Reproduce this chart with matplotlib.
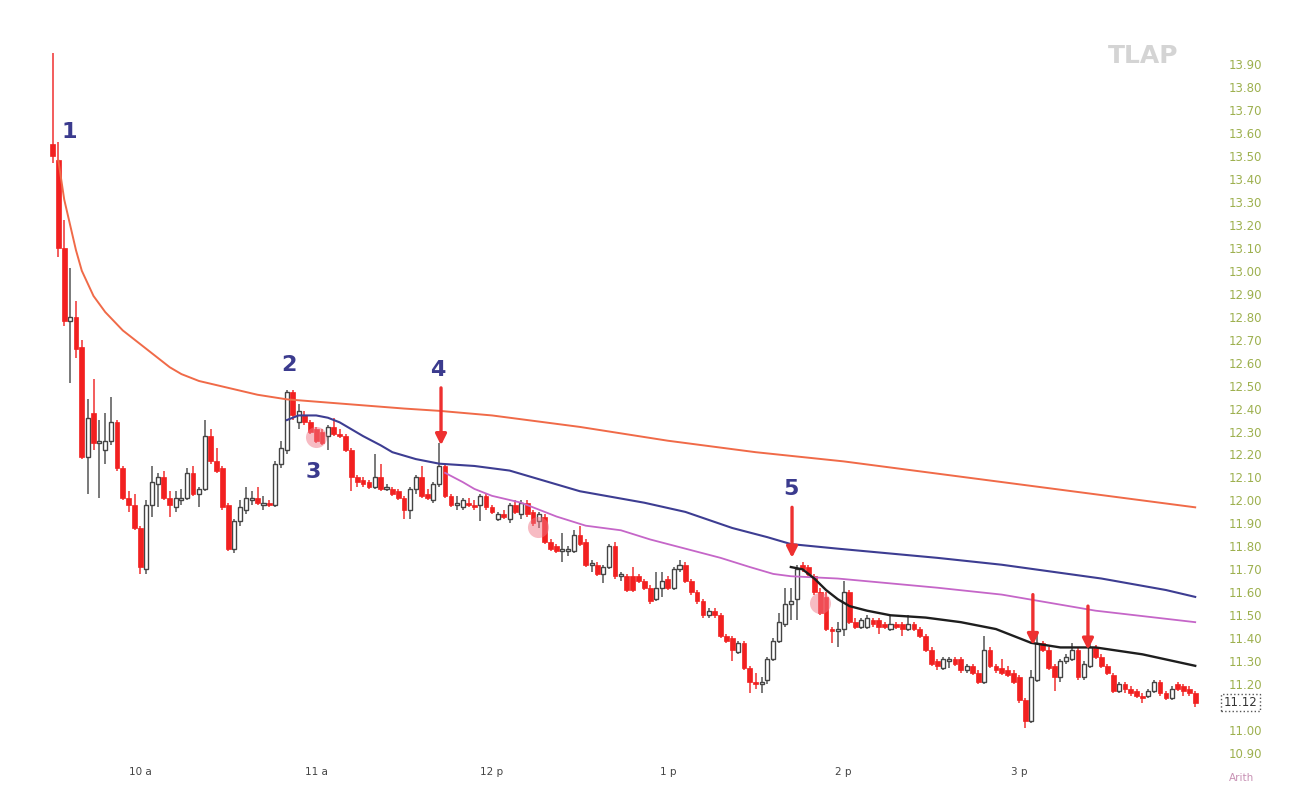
import numpy as np
import matplotlib
matplotlib.use('Agg')
from matplotlib import pyplot as plt

# 2-minute candles from 9:30
opens = [13.55, 13.48, 13.10, 12.78, 12.80, 12.67, 12.19, 12.38, 12.25, 12.22,
         12.26, 12.34, 12.14, 12.01, 11.98, 11.88, 11.70, 11.98, 12.07, 12.10,
         12.01, 11.97, 12.00, 12.01, 12.12, 12.03, 12.05, 12.28, 12.17, 12.14,
         11.98, 11.79, 11.91, 11.96, 12.00, 12.01, 11.98, 11.99, 11.98, 12.16,
         12.22, 12.47, 12.34, 12.37, 12.34, 12.31, 12.30, 12.28, 12.32, 12.29,
         12.28, 12.22, 12.10, 12.09, 12.08, 12.06, 12.10, 12.05, 12.05, 12.04,
         12.01, 11.96, 12.05, 12.10, 12.03, 12.00, 12.07, 12.15, 12.02, 11.98,
         11.97, 11.99, 11.98, 11.98, 12.02, 11.97, 11.92, 11.94, 11.92, 11.98,
         11.94, 11.99, 11.95, 11.91, 11.93, 11.82, 11.80, 11.78, 11.78, 11.78,
         11.85, 11.82, 11.72, 11.72, 11.68, 11.71, 11.80, 11.67, 11.67, 11.67,
         11.67, 11.65, 11.62, 11.57, 11.62, 11.66, 11.62, 11.70, 11.72, 11.65,
         11.60, 11.56, 11.50, 11.52, 11.50, 11.41, 11.40, 11.34, 11.38, 11.27,
         11.21, 11.20, 11.22, 11.31, 11.39, 11.46, 11.55, 11.57, 11.72, 11.71,
         11.67, 11.60, 11.58, 11.44, 11.43, 11.44, 11.60, 11.47, 11.45, 11.45,
         11.48, 11.48, 11.46, 11.44, 11.46, 11.46, 11.44, 11.46, 11.44, 11.41,
         11.35, 11.30, 11.27, 11.30, 11.31, 11.31, 11.26, 11.28, 11.25, 11.21,
         11.35, 11.28, 11.27, 11.26, 11.25, 11.23, 11.13, 11.04, 11.22, 11.38,
         11.35, 11.28, 11.23, 11.30, 11.31, 11.35, 11.23, 11.28, 11.36, 11.32,
         11.28, 11.24, 11.17, 11.20, 11.18, 11.17, 11.15, 11.15, 11.17, 11.21,
         11.16, 11.14, 11.20, 11.19, 11.18, 11.16]
highs = [13.95, 13.56, 13.22, 13.01, 12.87, 12.70, 12.44, 12.53, 12.35, 12.38,
         12.45, 12.35, 12.15, 12.04, 12.03, 11.89, 12.00, 12.15, 12.12, 12.13,
         12.04, 12.04, 12.05, 12.14, 12.15, 12.06, 12.35, 12.31, 12.23, 12.15,
         11.99, 11.92, 12.00, 12.06, 12.04, 12.06, 12.02, 12.00, 12.17, 12.26,
         12.48, 12.48, 12.42, 12.39, 12.35, 12.32, 12.31, 12.33, 12.36, 12.31,
         12.29, 12.23, 12.11, 12.10, 12.09, 12.20, 12.16, 12.07, 12.06, 12.05,
         12.02, 12.06, 12.11, 12.15, 12.05, 12.08, 12.25, 12.16, 12.03, 12.02,
         12.01, 12.01, 12.00, 12.03, 12.03, 11.98, 11.95, 11.96, 11.99, 12.00,
         12.00, 12.00, 11.96, 11.95, 11.94, 11.83, 11.81, 11.86, 11.80, 11.87,
         11.89, 11.83, 11.74, 11.73, 11.72, 11.81, 11.82, 11.69, 11.68, 11.71,
         11.68, 11.66, 11.63, 11.69, 11.69, 11.67, 11.71, 11.74, 11.73, 11.66,
         11.61, 11.57, 11.53, 11.53, 11.51, 11.42, 11.41, 11.39, 11.39, 11.28,
         11.25, 11.23, 11.32, 11.40, 11.51, 11.62, 11.62, 11.72, 11.73, 11.72,
         11.68, 11.62, 11.60, 11.45, 11.47, 11.65, 11.61, 11.49, 11.49, 11.50,
         11.49, 11.49, 11.47, 11.50, 11.47, 11.47, 11.50, 11.47, 11.45, 11.42,
         11.36, 11.31, 11.32, 11.32, 11.32, 11.32, 11.29, 11.29, 11.26, 11.41,
         11.36, 11.29, 11.31, 11.28, 11.26, 11.24, 11.14, 11.26, 11.42, 11.39,
         11.36, 11.29, 11.31, 11.33, 11.38, 11.36, 11.30, 11.38, 11.37, 11.33,
         11.29, 11.25, 11.21, 11.21, 11.19, 11.18, 11.16, 11.18, 11.22, 11.22,
         11.17, 11.19, 11.21, 11.20, 11.19, 11.17]
lows = [13.47, 13.06, 12.76, 12.51, 12.62, 12.18, 12.03, 12.22, 12.01, 12.16,
        12.24, 12.13, 12.00, 11.95, 11.87, 11.68, 11.68, 11.93, 11.97, 12.00,
        11.93, 11.95, 11.98, 12.00, 12.02, 11.97, 12.04, 12.16, 12.12, 11.96,
        11.78, 11.77, 11.89, 11.94, 11.98, 11.98, 11.96, 11.97, 11.97, 12.14,
        12.20, 12.35, 12.31, 12.33, 12.29, 12.25, 12.24, 12.22, 12.28, 12.27,
        12.21, 12.04, 12.06, 12.06, 12.05, 12.05, 12.04, 12.04, 12.02, 12.00,
        11.92, 11.92, 12.03, 12.01, 12.00, 11.99, 12.06, 12.01, 11.97, 11.96,
        11.96, 11.97, 11.96, 11.91, 11.96, 11.94, 11.91, 11.92, 11.90, 11.94,
        11.92, 11.93, 11.89, 11.88, 11.81, 11.78, 11.77, 11.73, 11.76, 11.77,
        11.80, 11.71, 11.69, 11.67, 11.64, 11.70, 11.66, 11.65, 11.60, 11.60,
        11.64, 11.61, 11.55, 11.56, 11.58, 11.61, 11.61, 11.69, 11.64, 11.59,
        11.55, 11.49, 11.49, 11.49, 11.40, 11.38, 11.30, 11.33, 11.26, 11.16,
        11.18, 11.16, 11.20, 11.30, 11.38, 11.45, 11.48, 11.48, 11.69, 11.67,
        11.59, 11.50, 11.43, 11.38, 11.36, 11.41, 11.46, 11.44, 11.44, 11.44,
        11.45, 11.42, 11.44, 11.43, 11.44, 11.41, 11.43, 11.43, 11.40, 11.34,
        11.28, 11.26, 11.26, 11.27, 11.28, 11.25, 11.25, 11.24, 11.20, 11.20,
        11.27, 11.25, 11.24, 11.23, 11.20, 11.12, 11.01, 11.03, 11.21, 11.34,
        11.26, 11.17, 11.21, 11.29, 11.30, 11.22, 11.22, 11.27, 11.31, 11.27,
        11.24, 11.16, 11.16, 11.16, 11.15, 11.14, 11.12, 11.14, 11.16, 11.15,
        11.13, 11.13, 11.17, 11.15, 11.15, 11.10]
closes = [13.50, 13.10, 12.78, 12.80, 12.66, 12.19, 12.36, 12.25, 12.26, 12.26,
          12.34, 12.14, 12.01, 11.98, 11.88, 11.71, 11.98, 12.08, 12.10, 12.01,
          11.98, 12.01, 12.01, 12.12, 12.03, 12.05, 12.28, 12.17, 12.13, 11.97,
          11.79, 11.91, 11.97, 12.01, 12.01, 11.99, 11.99, 11.98, 12.16, 12.23,
          12.47, 12.37, 12.39, 12.34, 12.30, 12.26, 12.25, 12.32, 12.29, 12.28,
          12.22, 12.10, 12.08, 12.07, 12.06, 12.10, 12.05, 12.05, 12.03, 12.01,
          11.96, 12.05, 12.10, 12.02, 12.01, 12.07, 12.15, 12.02, 11.98, 11.98,
          12.00, 11.98, 11.97, 12.02, 11.97, 11.95, 11.94, 11.93, 11.98, 11.95,
          11.99, 11.94, 11.90, 11.94, 11.82, 11.79, 11.78, 11.78, 11.78, 11.85,
          11.81, 11.72, 11.72, 11.68, 11.71, 11.80, 11.67, 11.67, 11.61, 11.61,
          11.65, 11.62, 11.56, 11.62, 11.65, 11.62, 11.70, 11.72, 11.65, 11.60,
          11.56, 11.50, 11.52, 11.50, 11.41, 11.39, 11.35, 11.38, 11.27, 11.21,
          11.20, 11.21, 11.31, 11.39, 11.47, 11.55, 11.56, 11.70, 11.70, 11.68,
          11.60, 11.51, 11.44, 11.43, 11.44, 11.60, 11.47, 11.45, 11.48, 11.49,
          11.46, 11.45, 11.45, 11.46, 11.45, 11.44, 11.46, 11.44, 11.41, 11.35,
          11.29, 11.28, 11.31, 11.30, 11.29, 11.26, 11.28, 11.25, 11.21, 11.35,
          11.28, 11.26, 11.25, 11.24, 11.21, 11.13, 11.04, 11.23, 11.38, 11.35,
          11.27, 11.23, 11.30, 11.32, 11.35, 11.23, 11.29, 11.36, 11.32, 11.28,
          11.25, 11.17, 11.20, 11.18, 11.16, 11.15, 11.14, 11.17, 11.21, 11.16,
          11.14, 11.18, 11.18, 11.17, 11.16, 11.12]

# average lines (candle index, price)
vwap_x = [1, 2, 3, 4, 5, 7, 9, 12, 14, 16, 18, 20, 22, 25, 30, 35, 40, 50,
          60, 66, 75, 90, 105, 120, 135, 150, 165, 180, 195]
vwap_y = [13.48, 13.31, 13.20, 13.09, 13.00, 12.89, 12.82, 12.74, 12.70, 12.66,
          12.62, 12.58, 12.55, 12.52, 12.49, 12.46, 12.44, 12.42, 12.40, 12.39,
          12.37, 12.32, 12.26, 12.21, 12.17, 12.12, 12.07, 12.02, 11.97]
blue_x = [40, 42, 45, 47, 49, 51, 53, 56, 58, 62, 66, 72, 78, 90, 101, 108,
          116, 122, 126, 134, 151, 162, 179, 190, 195]
blue_y = [12.35, 12.37, 12.37, 12.36, 12.34, 12.31, 12.28, 12.24, 12.21, 12.18,
          12.16, 12.15, 12.13, 12.04, 11.99, 11.95, 11.88, 11.84, 11.81, 11.79,
          11.75, 11.72, 11.66, 11.61, 11.58]
pink_x = [67, 70, 72, 75, 80, 86, 91, 97, 102, 108, 114, 119, 123, 126, 134,
          151, 162, 178, 195]
pink_y = [12.12, 12.08, 12.05, 12.02, 11.99, 11.93, 11.89, 11.87, 11.83, 11.79,
          11.75, 11.71, 11.68, 11.67, 11.66, 11.62, 11.59, 11.52, 11.47]
black_x = [126, 128, 130, 132, 134, 136, 139, 143, 149, 155, 161, 164, 167,
           172, 178, 186, 195]
black_y = [11.71, 11.70, 11.66, 11.61, 11.57, 11.54, 11.52, 11.50, 11.49, 11.47,
           11.44, 11.41, 11.38, 11.36, 11.36, 11.33, 11.28]

time_ticks = [15, 45, 75, 105, 135, 165]
time_labels = ['10 a', '11 a', '12 p', '1 p', '2 p', '3 p']
price_ticks = [p for p in np.round(np.arange(10.9, 13.95, 0.1), 2) if p != 11.1]
last_price = 11.12

o = np.array(opens)
h = np.array(highs)
l = np.array(lows)
c = np.array(closes)
idx = np.arange(len(c))
up = c >= o

fig = plt.figure(figsize=(12.9, 7.94), dpi=100)
ax = fig.add_axes([0, 34 / 794, 1215 / 1290, 760 / 794])

# wicks
ax.vlines(idx[up], l[up], h[up], color='#555555', lw=1.1, zorder=2)
ax.vlines(idx[~up], l[~up], h[~up], color='#f03030', lw=1.1, zorder=2)
# bodies
body_lo = np.minimum(o, c)
body_h = np.maximum(np.abs(c - o), 0.008)
ax.bar(idx[up], body_h[up], bottom=body_lo[up], width=0.7,
       color='white', edgecolor='#444444', linewidth=1.0, zorder=2.2)
ax.bar(idx[~up], body_h[~up], bottom=body_lo[~up], width=0.8,
       color='#f22020', edgecolor='#f22020', linewidth=0.5, zorder=2.2)

ax.plot(vwap_x, vwap_y, color='#f06a48', lw=1.4, zorder=3)
ax.plot(blue_x, blue_y, color='#3d3d92', lw=1.5, zorder=3)
ax.plot(pink_x, pink_y, color='#c566c8', lw=1.3, zorder=3)
ax.plot(black_x, black_y, color='#1e1e1e', lw=1.7, zorder=3)

# pink markers
ax.scatter([45, 82.8, 131], [12.276, 11.884, 11.553], s=230,
           color='#f07888', alpha=0.5, lw=0, zorder=2.5)

# numbered labels
num_col = '#3b3b8e'
for txt, xi, yi in [('1', 2.9, 13.605), ('2', 40.4, 12.59), ('3', 44.5, 12.125),
                    ('4', 65.8, 12.57), ('5', 126.0, 12.05)]:
    ax.text(xi, yi, txt, color=num_col, fontsize=16, fontweight='bold',
            ha='center', va='center', zorder=5)

# red arrows
for xi, y0, y1 in [(66.3, 12.49, 12.24), (126.2, 11.97, 11.75),
                   (167.3, 11.59, 11.37), (176.7, 11.54, 11.35)]:
    ax.annotate('', xy=(xi, y1), xytext=(xi, y0),
                arrowprops=dict(arrowstyle='-|>', color='#ee3030', lw=2.4,
                                mutation_scale=16, shrinkA=0, shrinkB=0),
                zorder=5)

ax.set_xlim(-52.5 / 5.86, (1215 - 52.5) / 5.86)
ax.set_ylim(13.90 - (760 - 64) / 229.7, 13.90 + 64 / 229.7)

ax.set_xticks(time_ticks)
ax.set_xticklabels(time_labels)
ax.set_yticks(price_ticks)
ax.set_yticklabels(['%.2f' % p for p in price_ticks])
ax.yaxis.tick_right()
ax.tick_params(axis='y', length=0, pad=10, labelsize=8.5, labelcolor='#9db04e')
ax.tick_params(axis='x', length=0, pad=5, labelsize=7.5, labelcolor='#444444')
for s in ax.spines.values():
    s.set_visible(False)

# last price box
ax.text(1.021, last_price, '%.2f' % last_price, transform=ax.get_yaxis_transform(),
        ha='center', va='center', fontsize=8.5, color='#333333', clip_on=False,
        bbox=dict(boxstyle='square,pad=0.2', fc='white', ec='#555555', ls=':', lw=1),
        zorder=6)

fig.text(1143 / 1290, 1 - 56 / 794, 'TLAP', color='#d4d4d4', fontsize=18,
         fontweight='bold', ha='center', va='center')
fig.text(1242 / 1290, 1 - 778 / 794, 'Arith', color='#c891b4', fontsize=7.5,
         ha='center', va='center')

fig.savefig('out.png', dpi=100, facecolor='white')
